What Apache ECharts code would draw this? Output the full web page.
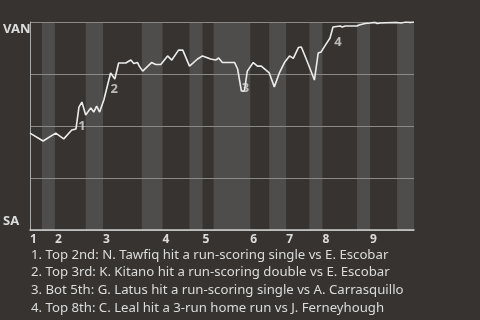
<!DOCTYPE html>
<html><head><meta charset="utf-8">
<script src="https://cdn.jsdelivr.net/npm/echarts@6/dist/echarts.min.js"></script>
<style>html,body{margin:0;padding:0;background:#363330}#c{width:480px;height:320px}</style>
</head><body><div id="c"></div>
<script>
const teamLabels = ['SA', 'VAN'];
const innings = ['1','2','3','4','5','6','7','8','9'];
const inningStarts = [0, 5.9, 17.3, 31.4, 40.9, 52.2, 60.7, 69.3, 80.6];
const bottomHalfStart = [2.8, 13.2, 26.5, 37.8, 43.5, 56.7, 66.2, 77.5, 87.0];
const bottomHalfEnd = [5.9, 17.3, 31.4, 40.9, 52.2, 60.7, 69.3, 80.6, 91];
const gameEvents = [0,3.1,6.1,8.0,9.9,10.9,11.6,12.3,13.2,14.4,15.1,15.8,16.5,17.5,19.1,20.1,21.0,22.7,23.9,24.6,25.5,25.9,26.7,28.8,29.8,31.0,32.6,33.6,35.2,36.2,37.8,39.7,40.9,42.8,44.0,44.7,45.6,46.3,48.5,49.2,50.1,50.8,51.5,52.9,53.9,54.8,56.7,57.9,59.1,60.3,61.5,62.4,63.6,64.3,65.7,67.4,68.3,69.0,70.0,71.1,71.8,72.1,73.5,74.0,74.7,77.5,78.0,79.4,80.6,81.8,82.3,83.0,87.0,87.9,89.1,90.1,90.5,91];
const winProb = [0.466,0.428,0.466,0.438,0.481,0.486,0.591,0.615,0.553,0.587,0.567,0.596,0.567,0.625,0.755,0.726,0.803,0.803,0.817,0.800,0.805,0.788,0.764,0.805,0.796,0.796,0.837,0.817,0.865,0.865,0.788,0.822,0.837,0.822,0.817,0.827,0.805,0.805,0.805,0.774,0.668,0.668,0.764,0.805,0.788,0.788,0.755,0.688,0.755,0.805,0.837,0.825,0.877,0.880,0.810,0.721,0.851,0.856,0.889,0.923,0.976,0.981,0.981,0.976,0.981,0.981,0.986,0.993,0.995,0.998,0.993,0.995,0.998,0.995,1.0,0.998,0.995,1.0];
const keyEvents = [11.6, 19.1, 50.8, 71.8];
const keyProb = [0.591, 0.755, 0.668, 0.976];
const keyLabels = ['1', '2', '3', '4'];
const notes = [
  '1. Top 2nd: N. Tawfiq hit a run-scoring single vs E. Escobar',
  '2. Top 3rd: K. Kitano hit a run-scoring double vs E. Escobar',
  '3. Bot 5th: G. Latus hit a run-scoring single vs A. Carrasquillo',
  '4. Top 8th: C. Leal hit a 3-run home run vs J. Ferneyhough'
];

const labelOffsets = [[3,19],[3.5,16.5],[1,-2.5],[5,15]];
const chart = echarts.init(document.getElementById('c'));
chart.setOption({
  backgroundColor: '#363330',
  animation: false,
  title: {
    text: notes.join('\n'),
    left: 31, top: 246, padding: 0,
    textStyle: { color: '#dcdcdc', fontSize: 13.2, fontWeight: 'normal', lineHeight: 17.7, fontFamily: 'Noto Sans' }
  },
  grid: { left: 29, right: 66, top: 22, bottom: 90 },
  xAxis: {
    type: 'value', min: 0, max: 91, z: 1,
    axisLine: { show: true, lineStyle: { color: '#d0d0d0', width: 1.5 } },
    axisTick: { show: false },
    splitLine: { show: false },
    axisLabel: {
      customValues: inningStarts,
      formatter: v => innings[inningStarts.indexOf(v)],
      align: 'left', margin: 4,
      color: '#dcdcdc', fontSize: 12, fontWeight: 'bold', fontFamily: 'Noto Sans'
    }
  },
  yAxis: {
    type: 'value', min: 0, max: 1, interval: 0.25, z: 1,
    axisLine: { show: true, lineStyle: { color: '#aaaaaa', width: 1 } },
    axisTick: { show: false },
    splitLine: { show: true, lineStyle: { color: '#8a8987', width: 1 } },
    axisLabel: {
      align: 'left', margin: 27,
      formatter: v => v === 1 ? '{t|' + teamLabels[1] + '}' : (v === 0 ? '{b|' + teamLabels[0] + '}' : ''),
      rich: {
        t: { color: '#dcdcdc', fontSize: 13, fontWeight: 'bold', fontFamily: 'Noto Sans', padding: [14, 0, 0, 0] },
        b: { color: '#dcdcdc', fontSize: 13, fontWeight: 'bold', fontFamily: 'Noto Sans', padding: [0, 0, 17, 0] }
      }
    }
  },
  series: [
    {
      type: 'custom', z: 0, silent: true,
      data: bottomHalfStart.map((s, i) => [s, bottomHalfEnd[i]]),
      encode: { x: [0, 1] },
      renderItem: (params, api) => {
        const a = api.coord([api.value(0), 1]);
        const b = api.coord([api.value(1), 0]);
        return { type: 'rect', shape: { x: a[0], y: a[1], width: b[0] - a[0], height: b[1] - a[1] }, style: { fill: '#4e4d4b' } };
      }
    },
    {
      type: 'line', z: 3, showSymbol: false,
      data: gameEvents.map((e, i) => [e, winProb[i]]),
      lineStyle: { color: '#ececec', width: 1.6 }
    },
    {
      type: 'scatter', z: 4, symbolSize: 0,
      data: keyEvents.map((e, i) => ({
        value: [e, keyProb[i]],
        label: { show: true, position: 'inside', offset: labelOffsets[i], formatter: keyLabels[i] }
      })),
      label: { color: '#dcdcdc', fontSize: 13, fontWeight: 'bold', fontFamily: 'Noto Sans' }
    }
  ]
});
</script></body></html>
